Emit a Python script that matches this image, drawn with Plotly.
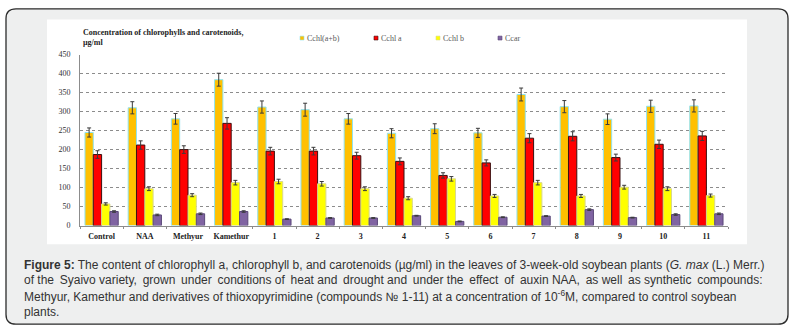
import plotly.graph_objects as go

W, H = 801, 335

# ---- data -------------------------------------------------------------
categories = ["Control", "NAA", "Methyur", "Kamethur", "1", "2", "3", "4",
              "5", "6", "7", "8", "9", "10", "11"]
series_names = ["Cchl(a+b)", "Cchl a", "Cchl b", "Ccar"]

chl_total = [245, 310, 281, 384, 312, 305, 281, 243, 255, 244, 345, 313, 280, 314, 315]
chl_a = [187, 212, 200, 269, 196, 196, 184, 169, 132, 165, 230, 235, 179, 214, 236]
chl_b = [57, 97, 80, 113, 116, 110, 97, 72, 123, 78, 113, 78, 101, 97, 79]
car = [37, 28, 31, 37, 17, 20, 20, 26, 11, 22, 25, 42, 21, 29, 31]

chl_total_err = [12, 16, 14, 17, 16, 17, 14, 12, 13, 12, 17, 16, 14, 16, 16]
chl_a_err = [10, 11, 10, 15, 10, 10, 9, 9, 7, 8, 12, 12, 9, 11, 12]
chl_b_err = [3, 5, 4, 6, 6, 6, 5, 4, 6, 4, 6, 4, 5, 5, 4]
car_err = [2, 2, 2, 2, 1, 1, 1, 1, 1, 1, 1, 2, 1, 2, 2]

y_ticks = [0, 50, 100, 150, 200, 250, 300, 350, 400, 450]

# ---- styles -----------------------------------------------------------
fills = ["#FFC000", "#FF0000", "#FFFF00", "#8064A2"]
outlines = ["#8FE3EF", "#3A1010", "#D8D890", "#5A4878"]
serif = "Liberation Serif, Times New Roman, serif"
sans = "Liberation Sans, Arial, sans-serif"


def px(x):
    return x / W


def py(y):
    return 1 - y / H


def P(x, y):
    return f"{px(x):.5f},{py(y):.5f}"


def widen(text, every=2, extra=()):
    """Add thin spaces after some words so a caption line runs to the margin."""
    words = text.split(" ")
    out = []
    for i, w in enumerate(words[:-1]):
        gap = " \u2009" if (i % every == 1 or i in extra) else " "
        out.append(w + gap)
    out.append(words[-1])
    return "".join(out)


fig = go.Figure()

for name, vals, errs, fc, lc in zip(
        series_names, [chl_total, chl_a, chl_b, car],
        [chl_total_err, chl_a_err, chl_b_err, car_err], fills, outlines):
    fig.add_trace(go.Bar(
        x=categories, y=vals, name=name,
        marker=dict(color=fc, line=dict(color=lc, width=1)),
        error_y=dict(type="data", array=errs, visible=True,
                     color="#3a3a3a", thickness=1, width=2),
        showlegend=False,
    ))

shapes = []
# rounded grey frame around chart and caption
x0, y0, x1, y1, r = 6, 5, 788, 329, 10
frame = (f"M{P(x0 + r, y0)} L{P(x1 - r, y0)} Q{P(x1, y0)} {P(x1, y0 + r)} "
         f"L{P(x1, y1 - r)} Q{P(x1, y1)} {P(x1 - r, y1)} "
         f"L{P(x0 + r, y1)} Q{P(x0, y1)} {P(x0, y1 - r)} "
         f"L{P(x0, y0 + r)} Q{P(x0, y0)} {P(x0 + r, y0)} Z")
shapes.append(dict(type="path", path=frame, xref="paper", yref="paper",
                   fillcolor="#EEEFEF", line=dict(color="#2b2b2b", width=1.3),
                   layer="below"))
# white chart panel
shapes.append(dict(type="rect", xref="paper", yref="paper",
                   x0=px(47), x1=px(747), y0=py(247), y1=py(16),
                   fillcolor="white", line=dict(width=0), layer="below"))

annotations = []
# legend drawn as small swatches with labels
legend_x = [302, 376, 438, 500]
legend_y = 35
for name, lx, fc, lc in zip(series_names, legend_x, fills, outlines):
    shapes.append(dict(type="rect", xref="paper", yref="paper",
                       x0=px(lx - 2), x1=px(lx + 2),
                       y0=py(legend_y + 2), y1=py(legend_y - 2),
                       fillcolor=fc, line=dict(color=lc, width=0.6)))
    annotations.append(dict(x=px(lx + 3), y=py(legend_y), xref="paper", yref="paper",
                            text=name, showarrow=False, xanchor="left", yanchor="middle",
                            font=dict(family=serif, size=8, color="#595959")))

# chart title
annotations.append(dict(x=px(81), y=py(23), xref="paper", yref="paper",
                        text="<b>Concentration of chlorophylls and carotenoids,<br>µg/ml</b>",
                        showarrow=False, xanchor="left", yanchor="top", align="left",
                        font=dict(family=serif, size=8, color="#222222")))

# figure caption
caption_lines = [
    "<b>Figure 5:</b> The content of chlorophyll a, chlorophyll b, and carotenoids (µg/ml) "
    "in the leaves of 3-week-old soybean plants (<i>G. max</i> (L.) Merr.)",
    widen("of the Syaivo variety, grown under conditions of heat and drought and under the "
          "effect of auxin NAA, as well as synthetic compounds:", every=2, extra=(4, 14)),
    "Methyur, Kamethur and derivatives of thioxopyrimidine (compounds № 1-11) at a "
    "concentration of 10<sup>-6</sup>M, compared to control soybean",
    "plants.",
]
caption_y = [268, 284, 300, 316]
for line, ly in zip(caption_lines, caption_y):
    annotations.append(dict(x=px(22), y=py(ly), xref="paper", yref="paper",
                            text=line, showarrow=False, xanchor="left", yanchor="middle",
                            font=dict(family=sans, size=12, color="#333333")))

fig.update_layout(
    width=W, height=H,
    margin=dict(l=0, r=0, t=0, b=0),
    paper_bgcolor="white", plot_bgcolor="white",
    barmode="group", bargap=0.23, bargroupgap=0,
    shapes=shapes, annotations=annotations,
    xaxis=dict(domain=[px(80), px(728)], showline=True, linecolor="#8c8c8c",
               linewidth=1, tickson="boundaries", ticks="outside", ticklen=2,
               tickcolor="#8c8c8c", showgrid=False, tickangle=0, ticklabelstandoff=3,
               tickfont=dict(family=serif, size=8, color="#222222"),
               tickprefix="<b>", ticksuffix="</b>"),
    yaxis=dict(domain=[py(227.7), py(52)], range=[0, 450], tickvals=y_ticks,
               showline=True, linecolor="#8c8c8c", linewidth=1,
               showgrid=True, gridcolor="#8c8c8c", griddash="dot", gridwidth=1,
               zeroline=False, ticks="", ticklabelstandoff=7,
               tickfont=dict(family=serif, size=8, color="#333333")),
)

fig.write_html("out.html")
